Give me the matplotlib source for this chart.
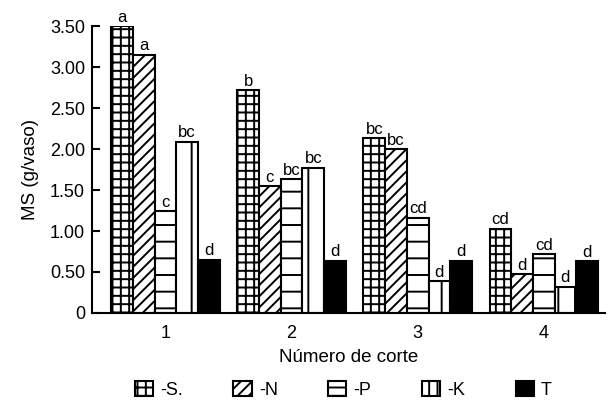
import matplotlib.pyplot as plt
import matplotlib.patches as mpatches
import numpy as np

plt.rcParams["font.family"] = ["Liberation Sans", "DejaVu Sans"]
plt.rcParams["hatch.linewidth"] = 1.4
plt.rcParams["hatch.color"] = "black"

cortes = ["1", "2", "3", "4"]
series = ["-S.", "-N", "-P", "-K", "T"]

ms_S = [3.50, 2.72, 2.13, 1.03]
ms_N = [3.15, 1.55, 2.00, 0.47]
ms_P = [1.24, 1.63, 1.16, 0.72]
ms_K = [2.09, 1.77, 0.39, 0.32]
ms_T = [0.65, 0.64, 0.64, 0.63]

let_S = ["a", "b", "bc", "cd"]
let_N = ["a", "c", "bc", "d"]
let_P = ["c", "bc", "cd", "cd"]
let_K = ["bc", "bc", "d", "d"]
let_T = ["d", "d", "d", "d"]

values = [ms_S, ms_N, ms_P, ms_K, ms_T]
letters = [let_S, let_N, let_P, let_K, let_T]
hatches = ["++", "///", "-", "|", None]
legend_hatches = ["++", "///", "--", "||", None]
faces = ["white", "white", "white", "white", "black"]

fig = plt.figure(figsize=(6.11, 4.07), dpi=100)
ax = fig.add_axes([0.1506, 0.231, 0.84, 0.705])

x = np.arange(len(cortes))
width = 0.172
for i in range(len(series)):
    offset = (i - 2) * width
    rects = ax.bar(x + offset, values[i], width, color=faces[i], edgecolor="black",
                   linewidth=1.5, hatch=hatches[i], label=series[i])
    ax.bar_label(rects, labels=letters[i], padding=1, fontsize=12)

ax.set_xlim(-0.583, 3.488)
ax.set_ylim(0, 3.5)
ax.set_yticks([0, 0.5, 1.0, 1.5, 2.0, 2.5, 3.0, 3.5])
ax.set_yticklabels(["0", "0.50", "1.00", "1.50", "2.00", "2.50", "3.00", "3.50"])
ax.set_xticks(x, cortes)
ax.tick_params(axis="y", direction="in", length=6, width=1.5, pad=5, labelsize=13)
ax.tick_params(axis="x", length=0, pad=9, labelsize=13)
for s in ["top", "right"]:
    ax.spines[s].set_visible(False)
ax.spines["left"].set_linewidth(1.5)
ax.spines["bottom"].set_linewidth(1.5)

ax.set_ylabel("MS (g/vaso)", fontsize=13.5, labelpad=8)
ax.set_xlabel("Número de corte", fontsize=13.5, labelpad=5)

# legend proxies so the small boxes show a couple of hatch lines like the original
handles = [mpatches.Patch(facecolor=faces[i], edgecolor="black", linewidth=1.5,
                          hatch=legend_hatches[i], label=series[i])
           for i in range(len(series))]
fig.legend(handles=handles, loc="center", bbox_to_anchor=(0.562, 0.042), ncol=5,
           frameon=False, fontsize=13, handlelength=1.0, handleheight=0.95,
           handletextpad=0.4, columnspacing=2.8)

plt.savefig("out.png", dpi=100)
